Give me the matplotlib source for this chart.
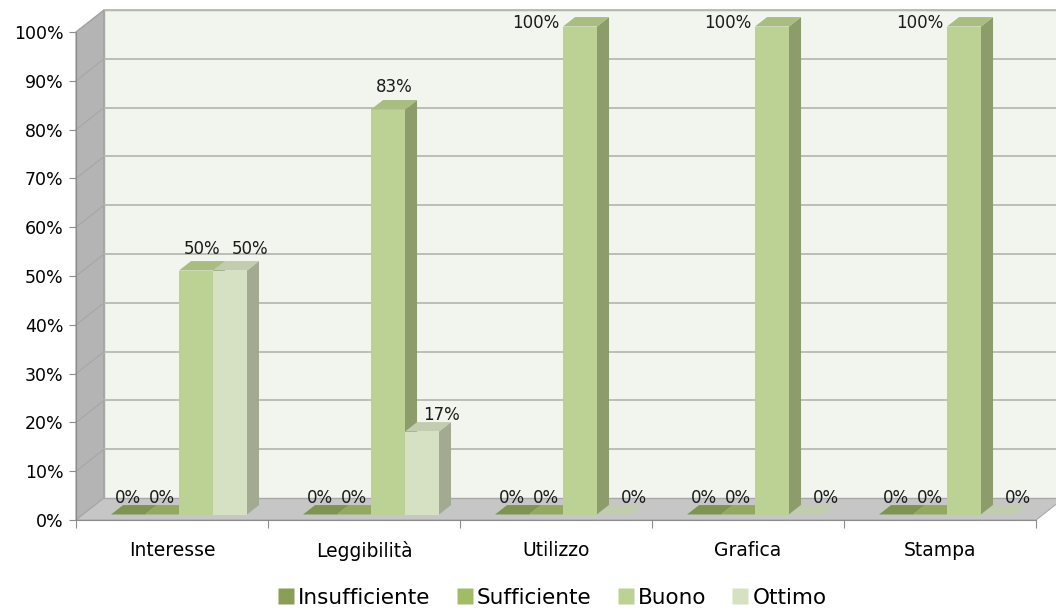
import matplotlib
matplotlib.use("Agg")
import matplotlib.pyplot as plt
from matplotlib.patches import Polygon
from matplotlib.lines import Line2D
import numpy as np

categories = ["Interesse", "Leggibilità", "Utilizzo", "Grafica", "Stampa"]
series = ["Insufficiente", "Sufficiente", "Buono", "Ottimo"]
insufficiente = [0, 0, 0, 0, 0]
sufficiente = [0, 0, 0, 0, 0]
buono = [50, 83, 100, 100, 100]
ottimo = [50, 17, 0, 0, 0]
yticks = [0, 10, 20, 30, 40, 50, 60, 70, 80, 90, 100]

values = [insufficiente, sufficiente, buono, ottimo]
front_colors = ["#8a9e58", "#a2bb68", "#bcd294", "#d6e1c3"]
side_colors = ["#6e7f45", "#7e9050", "#8c9c6a", "#a2aa92"]
top_colors = ["#7f9450", "#93aa5e", "#a9bd82", "#c2ccae"]

plt.rcParams["font.family"] = ["DejaVu Sans"]

fig = plt.figure(figsize=(10.56, 6.12), dpi=100)
ax = fig.add_axes([76 / 1056, 92 / 612, 960 / 1056, 488 / 612])
ax.set_xlim(0, len(categories))
ax.set_ylim(0, 100)

# oblique depth offset (full depth) in data units
DX = 28 / 192
DY = 4.5
ncat = len(categories)

def proj(x, y, d):
    return (x + DX * d, y + DY * d)

# left side wall
side = Polygon([proj(0, 0, 0), proj(0, 100, 0), proj(0, 100, 1), proj(0, 0, 1)],
               closed=True, facecolor="#b4b4b4", edgecolor="#9a9a9a", lw=0.8,
               clip_on=False, zorder=1)
ax.add_patch(side)
# floor
floor = Polygon([proj(0, 0, 0), proj(ncat, 0, 0), proj(ncat, 0, 1), proj(0, 0, 1)],
                closed=True, facecolor="#c6c6c6", edgecolor="#a8a8a8", lw=0.8,
                clip_on=False, zorder=1)
ax.add_patch(floor)
# back wall
back = Polygon([proj(0, 0, 1), proj(ncat, 0, 1), proj(ncat, 100, 1), proj(0, 100, 1)],
               closed=True, facecolor="#f1f5ed", edgecolor="#a8a8a8", lw=1.0,
               clip_on=False, zorder=1)
ax.add_patch(back)

# gridlines on back wall and side wall
for v in yticks[1:]:
    x0, y0 = proj(0, v, 1)
    x1, y1 = proj(ncat, v, 1)
    ax.plot([x0, x1], [y0, y1], color="#b6bab2", lw=1.3, clip_on=False, zorder=1.5)
    xa, ya = proj(0, v, 0)
    ax.plot([xa, x0], [ya, y0], color="#a6a6a6", lw=0.8, clip_on=False, zorder=1.5)

# bars
bar_w = 0.177
d0, d1 = 0.25, 0.68
group_w = bar_w * len(series)
label_dx = [0, 0, 6, 20]
for ci in range(ncat):
    start = ci + (1 - group_w) / 2
    for si in range(len(series)):
        v = values[si][ci]
        xl = start + si * bar_w
        xr = xl + bar_w
        z = 3 + si * 0.01 + ci * 0.1
        # right side face
        ax.add_patch(Polygon([proj(xr, 0, d0), proj(xr, v, d0), proj(xr, v, d1), proj(xr, 0, d1)],
                             closed=True, facecolor=side_colors[si], edgecolor="none",
                             clip_on=False, zorder=z))
        # front face
        ax.add_patch(Polygon([proj(xl, 0, d0), proj(xr, 0, d0), proj(xr, v, d0), proj(xl, v, d0)],
                             closed=True, facecolor=front_colors[si], edgecolor="none",
                             clip_on=False, zorder=z + 0.002))
        # top face
        ax.add_patch(Polygon([proj(xl, v, d0), proj(xr, v, d0), proj(xr, v, d1), proj(xl, v, d1)],
                             closed=True, facecolor=top_colors[si], edgecolor="none",
                             clip_on=False, zorder=z + 0.003))
        # value label
        if v >= 100:
            lx, ly = proj(xl, v, d0)
            ax.annotate(f"{v}%", (lx, ly), xytext=(-4, 4), textcoords="offset pixels",
                        ha="right", va="center", fontsize=12, color="#1a1a1a",
                        annotation_clip=False, zorder=10)
        else:
            lx, ly = proj((xl + xr) / 2, v, d0)
            dyp = 22 if v > 20 else 17
            ax.annotate(f"{v}%", (lx, ly), xytext=(label_dx[si], dyp),
                        textcoords="offset pixels", ha="center", va="center",
                        fontsize=12, color="#1a1a1a", annotation_clip=False, zorder=10)

# axes: spines and ticks
for s in ["top", "right"]:
    ax.spines[s].set_visible(False)
ax.spines["left"].set_color("#8c8c8c")
ax.spines["bottom"].set_color("#8c8c8c")
ax.spines["left"].set_zorder(2)
ax.spines["bottom"].set_zorder(2)
ax.set_facecolor("none")
ax.set_yticks(yticks)
ax.set_yticklabels([f"{t}%" for t in yticks], fontsize=12.5)
ax.tick_params(axis="y", length=5, color="#8c8c8c", pad=4)
ax.set_xticks(np.arange(0, ncat + 1))
ax.set_xticklabels([])
ax.set_xticks(np.arange(ncat) + 0.5, minor=True)
ax.set_xticklabels(categories, minor=True, fontsize=13.5)
ax.tick_params(axis="x", which="major", length=6, color="#8c8c8c")
ax.tick_params(axis="x", which="minor", length=0, pad=15)

# legend
handles = [Line2D([0], [0], marker="s", color="none", markerfacecolor=c,
                  markeredgecolor="none", markersize=11) for c in front_colors]
fig.legend(handles, series, loc="center", bbox_to_anchor=(553 / 1056, 1 - 598 / 612),
           ncol=4, frameon=False, fontsize=15.5, handlelength=0.6, handletextpad=0.25,
           columnspacing=1.3)

fig.savefig("out.png", dpi=100)
